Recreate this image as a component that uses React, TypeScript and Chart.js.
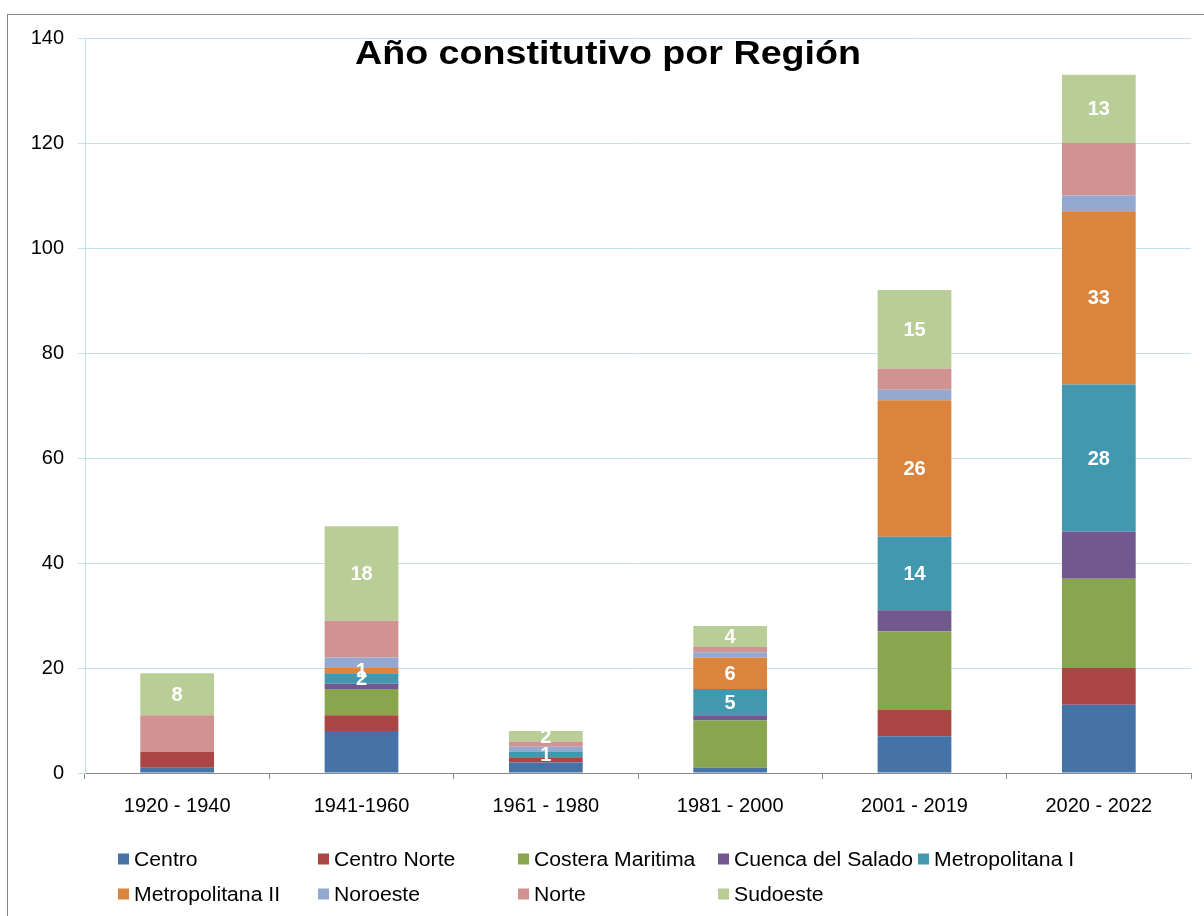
import { useEffect, useRef } from 'react';
import { Chart, registerables } from 'chart.js';

Chart.register(...registerables);

const FONT = '"Liberation Sans", Arial, sans-serif';

const chartTitle = 'Año constitutivo por Región';
const categories = ['1920 - 1940', '1941-1960', '1961 - 1980', '1981 - 2000', '2001 - 2019', '2020 - 2022'];
const seriesNames = ['Centro', 'Centro Norte', 'Costera Maritima', 'Cuenca del Salado', 'Metropolitana I', 'Metropolitana II', 'Noroeste', 'Norte', 'Sudoeste'];
const seriesColors = ['#4572A7', '#AA4643', '#89A54E', '#71588F', '#4198AF', '#DB843D', '#93A9CF', '#D19392', '#B9CD96'];
const centro = [1, 8, 2, 1, 7, 13];
const centroNorte = [3, 3, 1, 0, 5, 7];
const costeraMaritima = [0, 5, 0, 9, 15, 17];
const cuencaDelSalado = [0, 1, 0, 1, 4, 9];
const metropolitanaI = [0, 2, 1, 5, 14, 28];
const metropolitanaII = [0, 1, 0, 6, 26, 33];
const noroeste = [0, 2, 1, 1, 2, 3];
const norte = [7, 7, 1, 1, 4, 10];
const sudoeste = [8, 18, 2, 4, 15, 13];
const seriesValues = [centro, centroNorte, costeraMaritima, cuencaDelSalado, metropolitanaI, metropolitanaII, noroeste, norte, sudoeste];
const labelledSeries = ['Metropolitana I', 'Metropolitana II', 'Sudoeste'];
const yTicks = [0, 20, 40, 60, 80, 100, 120, 140];

const decor = {
  id: 'decor',
  afterDatasetsDraw(chart: any) {
    const ctx = chart.ctx;
    ctx.save();
    ctx.font = `bold 20px ${FONT}`;
    ctx.fillStyle = '#FFFFFF';
    ctx.textAlign = 'center';
    ctx.textBaseline = 'middle';
    chart.data.datasets.forEach((ds: any, i: number) => {
      if (!labelledSeries.includes(ds.label)) return;
      const meta = chart.getDatasetMeta(i);
      meta.data.forEach((el: any, j: number) => {
        const v = ds.data[j];
        if (!v) return;
        ctx.fillText(String(v), el.x, (el.y + el.base) / 2 + 1);
      });
    });
    ctx.restore();
  },
  afterDraw(chart: any) {
    const ctx = chart.ctx;
    ctx.save();
    // outer frame
    ctx.strokeStyle = '#868686';
    ctx.lineWidth = 1;
    ctx.strokeRect(7.5, 14.5, 1400, 1000);
    // title
    ctx.font = `bold 33px ${FONT}`;
    ctx.fillStyle = '#000000';
    ctx.textAlign = 'left';
    ctx.textBaseline = 'alphabetic';
    const tw = ctx.measureText(chartTitle).width;
    const target = 506;
    const sx = target / tw;
    ctx.save();
    ctx.translate(608 - target / 2, 64);
    ctx.scale(sx, 1);
    ctx.fillText(chartTitle, 0, 0);
    ctx.restore();
    // legend
    ctx.font = `20px ${FONT}`;
    ctx.textBaseline = 'middle';
    seriesNames.forEach((name, i) => {
      const col = i < 5 ? i : i - 5;
      const row = i < 5 ? 0 : 1;
      const x = 118 + col * 200;
      const y = row === 0 ? 859 : 894;
      ctx.fillStyle = seriesColors[i];
      ctx.fillRect(x, y - 5.5, 11, 11);
      ctx.fillStyle = '#000000';
      ctx.save();
      ctx.translate(x + 16, y + 1);
      ctx.scale(1.06, 1);
      ctx.fillText(name, 0, 0);
      ctx.restore();
    });
    ctx.restore();
  },
};

export default function App() {
  const ref = useRef<HTMLCanvasElement>(null);
  useEffect(() => {
    const chart = new Chart(ref.current!, {
      type: 'bar',
      data: {
        labels: categories,
        datasets: seriesNames.map((name, i) => ({
          label: name,
          data: seriesValues[i],
          backgroundColor: seriesColors[i],
          borderWidth: 0,
          categoryPercentage: 1,
          barPercentage: 0.4,
        })),
      },
      options: {
        responsive: false,
        animation: false,
        layout: { padding: { left: 0, top: 38, right: 13, bottom: 93 } },
        plugins: {
          legend: { display: false },
          title: { display: false },
          tooltip: { enabled: false },
        },
        scales: {
          x: {
            stacked: true,
            grid: { offset: true, drawOnChartArea: false, drawTicks: true, tickLength: 6, color: '#868686' },
            border: { color: '#868686' },
            ticks: { font: { family: FONT, size: 20 }, color: '#000000', padding: 15, maxRotation: 0 },
            afterFit: (s: any) => { s.height = 50; },
          },
          y: {
            stacked: true,
            min: 0,
            max: 140,
            afterBuildTicks: (s: any) => { s.ticks = yTicks.map((v) => ({ value: v })); },
            ticks: { font: { family: FONT, size: 20 }, color: '#000000', padding: 14 },
            grid: { color: '#BEE1EA', tickLength: 7 },
            border: { color: '#BEE1EA' },
            afterFit: (s: any) => { s.width = 85; },
          },
        },
      } as any,
      plugins: [decor],
    });
    return () => chart.destroy();
  }, []);
  return (
    <div style={{ position: 'absolute', left: 0, top: 0, width: 1204, height: 916, background: '#FFFFFF' }}>
      <canvas ref={ref} width={1204} height={916} style={{ display: 'block' }} />
    </div>
  );
}
